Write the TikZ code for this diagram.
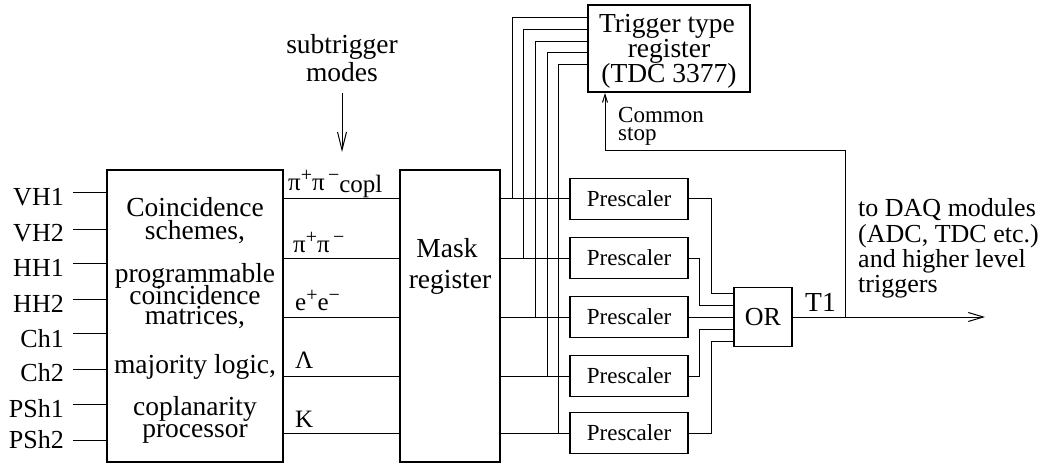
\documentclass[tikz,border=0pt]{standalone}
\usepackage{fontspec}
\setmainfont{Liberation Serif}
\usetikzlibrary{arrows.meta,calc}
\newcommand{\fsz}[1]{\fontsize{#1}{#1}\selectfont}
\newcommand{\sps}[1]{\raisebox{9pt}{\fsz{20}#1}}
\begin{document}
\begin{tikzpicture}[x=1pt,y=-1pt,
  box/.style={draw, line width=1.8pt, inner sep=0pt},
  wire/.style={line width=1pt},
  txt/.style={inner sep=0pt, anchor=base, font=\fsz{26}},
  btxt/.style={inner sep=0pt, anchor=base, font=\fsz{27.5}},
  ltxt/.style={inner sep=0pt, anchor=base west, font=\fsz{26}},
  inl/.style={inner sep=0pt, anchor=base east, font=\fsz{26}},
  lab/.style={inner sep=0pt, anchor=base west, font=\fsz{25}},
  pre/.style={box, minimum width=118pt, minimum height=41pt, font=\fsz{23}},
]
\useasboundingbox (0,0) rectangle (1049,465);

% main boxes
\node[box, minimum width=176pt, minimum height=292pt] (coin) at (195,316) {};
\node[box, minimum width=100pt, minimum height=292pt] (mask) at (450,316) {};
\node[box, minimum width=162pt, minimum height=87pt] (trig) at (669,48.5) {};
\node[box, minimum width=58pt, minimum height=59pt, font=\fsz{26}] (or) at (763,317) {OR};

% levels of the five trigger lines
\coordinate (y1) at (0,199);
\coordinate (y2) at (0,258);
\coordinate (y3) at (0,317);
\coordinate (y4) at (0,376);
\coordinate (y5) at (0,433);

% prescalers
\node[pre] (p1) at (629,199) {Prescaler};
\node[pre] (p2) at (629,258) {Prescaler};
\node[pre] (p3) at (629,317) {Prescaler};
\node[pre] (p4) at (629,376) {Prescaler};
\node[pre] (p5) at (629,433) {Prescaler};

% text of coincidence box
\node[btxt] (c1) at (195,216) {Coincidence};
\node[btxt] (c2) at (195,239) {schemes,};
\node[btxt] (c3) at (195,282) {programmable};
\node[btxt] (c4) at (195,304) {coincidence};
\node[btxt] (c5) at (195,324) {matrices,};
\node[btxt] (c6) at (195,373) {majority logic,};
\node[btxt] (c7) at (195,415) {coplanarity};
\node[btxt] (c8) at (195,437) {processor};

% mask register text
\node[btxt] (m1) at (447,257) {Mask};
\node[btxt] (m2) at (450,288) {register};

% trigger type register text
\node[btxt] (t1) at (667,33) {Trigger type};
\node[btxt] (t2) at (669,58) {register};
\node[btxt] (t3) at (669,83) {(TDC 3377)};

% input labels and stubs
\node[inl] (i1) at (64,205) {VH1};
\node[inl] (i2) at (64,241) {VH2};
\node[inl] (i3) at (64,276) {HH1};
\node[inl] (i4) at (64,312) {HH2};
\node[inl] (i5) at (64,347) {Ch1};
\node[inl] (i6) at (64,381) {Ch2};
\node[inl] (i7) at (64,417) {PSh1};
\node[inl] (i8) at (64,448) {PSh2};
\foreach \k/\yy in {1/193,2/229,3/263,4/299,5/333,6/369,7/404,8/440}{
  \coordinate (s\k) at (73,\yy);
  \draw[wire] (s\k) -- (s\k -| coin.west);
}

% labels on the trigger lines
\node[lab] (l1) at (288,190) {π\sps{+}π\sps{\,−}\raisebox{-2pt}{copl}};
\node[lab] (l2) at (293,252) {π\sps{+}π\sps{\,−}};
\node[lab] (l3) at (295,310) {e\sps{+}e\sps{−}};
\node[lab] (l4) at (295,368) {Λ};
\node[lab] (l5) at (295,427) {K};

% trigger lines
\foreach \k in {1,...,5}{
  \draw[wire] (coin.east |- y\k) -- (mask.west |- y\k);
  \draw[wire] (mask.east |- y\k) -- (p\k.west);
}

% taps to trigger type register
\foreach \k/\xx/\top in {1/512/18,2/523/30,3/535/42,4/547/53,5/558/65}{
  \coordinate (j\k) at (\xx,0 |- y\k);
  \draw[wire] (j\k) |- (trig.west |- 0,\top);
}

% prescalers to OR
\draw[wire] (p1.east) -- ++(23,0) |- ($(or.west)+(0,-24)$);
\draw[wire] (p2.east) -- ++(11,0) |- ($(or.west)+(0,-12)$);
\draw[wire] (p3.east) -- (or.west);
\draw[wire] (p4.east) -- ++(11,0) |- ($(or.west)+(0,12)$);
\draw[wire] (p5.east) -- ++(23,0) |- ($(or.west)+(0,24)$);

% T1 output
\coordinate (out) at (985,317);
\draw[wire, -{Straight Barb[length=15pt,width=9pt]}] (or.east) -- (out);
\node[ltxt, font=\fsz{27.5}] (tone) at (805,311) {T1};

% common stop
\coordinate (br) at (845,317);
\coordinate (cs) at (605,151);
\draw[wire, -{Straight Barb[length=8pt,width=5pt]}] (br) |- (cs) -- (cs |- trig.south);
\node[inner sep=0pt, anchor=base west, font=\fsz{23}] (cm1) at (618,123) {Common};
\node[inner sep=0pt, anchor=base west, font=\fsz{23}] (cm2) at (618,141) {stop};

% subtrigger modes
\node[btxt] (st1) at (342,54) {subtrigger};
\node[btxt] (st2) at (342,82) {modes};
\coordinate (sa) at (342,93);
\coordinate (sb) at (342,152);
\draw[wire, -{Straight Barb[length=18pt,width=9pt]}] (sa) -- (sb);

% destination text
\node[ltxt] (d1) at (858,216) {to DAQ modules};
\node[ltxt] (d2) at (858,242) {(ADC, TDC etc.)};
\node[ltxt] (d3) at (858,267) {and higher level};
\node[ltxt] (d4) at (858,292) {triggers};
\end{tikzpicture}
\end{document}
